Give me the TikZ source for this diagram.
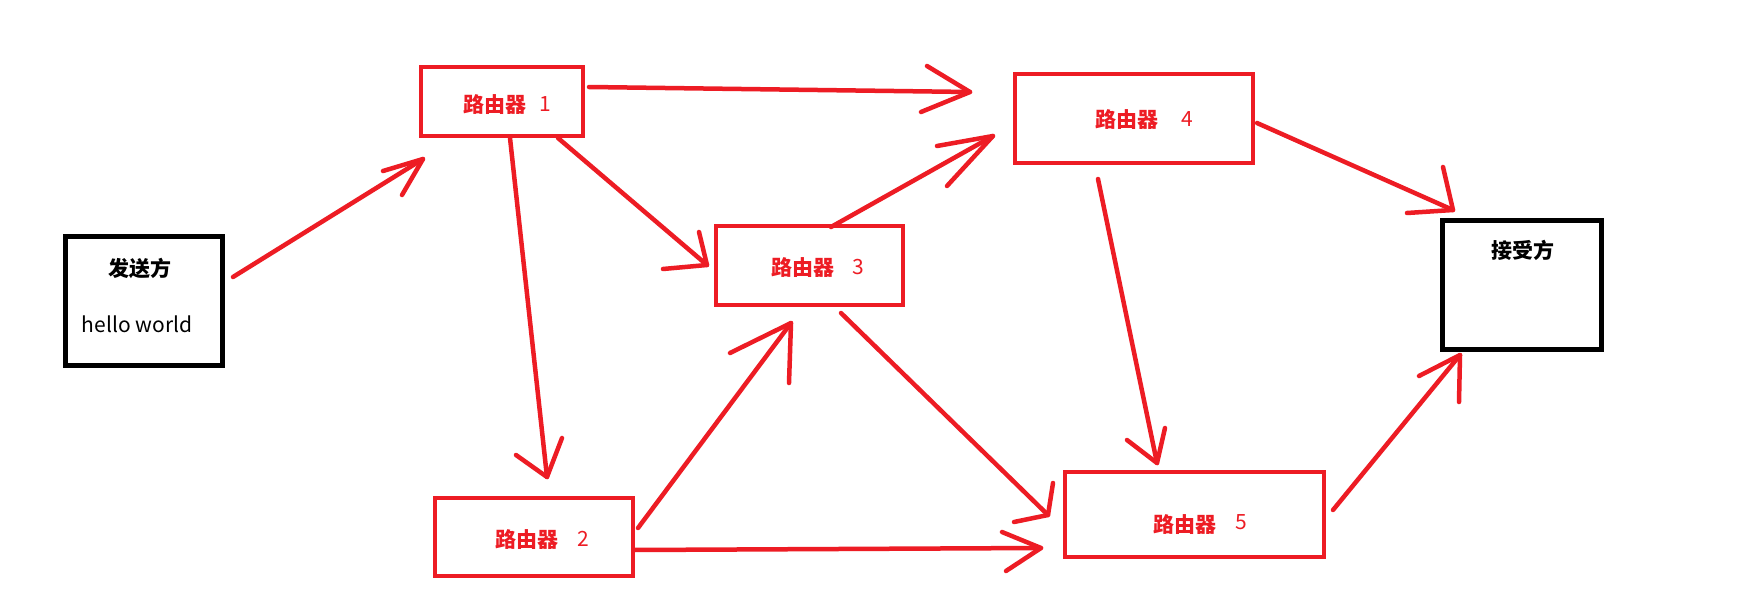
\documentclass[tikz,border=0pt]{standalone}
\usepackage{fontspec}
\setmainfont{Noto Sans CJK SC}
\usetikzlibrary{calc}
\definecolor{pred}{RGB}{237,28,36}
\tikzset{
  rbox/.style={draw=pred, line width=4.5pt, outer sep=0pt, inner sep=0pt},
  kbox/.style={draw=black, line width=5pt, outer sep=0pt, inner sep=0pt},
  cjklbl/.style={inner sep=0pt, font=\fontsize{21}{25}\selectfont\bfseries},
  numlbl/.style={inner sep=0pt, text=pred, font=\fontsize{21}{25}\selectfont},
  arr/.style={draw=pred, line width=4.5pt, line cap=round, line join=round}
}
\begin{document}
\begin{tikzpicture}[x=1pt,y=-1pt]
\useasboundingbox[fill=white] (0,0) rectangle (1754,610);
% boxes
\node[kbox, minimum width=157pt, minimum height=129pt] (snd) at (144,301) {};
\node[kbox, minimum width=159pt, minimum height=129pt] (rcv) at (1522,285) {};
\node[rbox, minimum width=162pt, minimum height=69pt] (r1) at (502,101.5) {};
\node[rbox, minimum width=198pt, minimum height=78pt] (r2) at (534,537) {};
\node[rbox, minimum width=187pt, minimum height=79pt] (r3) at (809.5,265.5) {};
\node[rbox, minimum width=238pt, minimum height=89pt] (r4) at (1134,118.5) {};
\node[rbox, minimum width=259pt, minimum height=85pt] (r5) at (1194.5,514.5) {};
% texts
\node[cjklbl] (sndt) at (140,268) {发送方};
\node[inner sep=0pt, font=\fontsize{21}{25}\selectfont] (sndh) at (137,324) {hello world};
\node[cjklbl] (rcvt) at (1523,250) {接受方};
\node[cjklbl, text=pred] (r1t) at (495,105) {路由器};
\node[numlbl] (r1n) at (545,104) {1};
\node[cjklbl, text=pred] (r2t) at (526.5,540) {路由器};
\node[numlbl] (r2n) at (583,539) {2};
\node[cjklbl, text=pred] (r3t) at (802.5,268) {路由器};
\node[numlbl] (r3n) at (858,267) {3};
\node[cjklbl, text=pred] (r4t) at (1126.5,120) {路由器};
\node[numlbl] (r4n) at (1187,119) {4};
\node[cjklbl, text=pred] (r5t) at (1185,525) {路由器};
\node[numlbl] (r5n) at (1241,522) {5};
% arrow ends
\coordinate (t1) at ([shift={(2,23)}]r1.south west);
\coordinate (t2) at ([shift={(13,-21)}]r2.north);
\coordinate (t3) at ([shift={(-45,-26.5)}]r4.west);
\coordinate (t4) at ([shift={(-9,-0.5)}]r3.west);
\coordinate (t5) at ([shift={(-22,-27)}]r4.south west);
\coordinate (t6) at ([shift={(-18.5,18)}]r3.south);
\coordinate (t7) at ([shift={(-17,0.5)}]r5.west);
\coordinate (t8) at ([shift={(-24,33.5)}]r5.west);
\coordinate (t9) at ([shift={(-37.5,-9)}]r5.north);
\coordinate (t10) at ([shift={(10.5,-10.5)}]rcv.north west);
\coordinate (t11) at ([shift={(17.5,5.5)}]rcv.south west);
% shafts
\draw[arr] ([shift={(10.5,-24)}]snd.east) -- (t1);
\draw[arr] ([shift={(8,2)}]r1.south) -- (t2);
\draw[arr] ([shift={(6,-14.5)}]r1.east) -- (t3);
\draw[arr] ([shift={(-25,2)}]r1.south east) -- (t4);
\draw[arr] ([shift={(21.5,1)}]r3.north) -- (t5);
\draw[arr] ([shift={(5,-9)}]r2.east) -- (t6);
\draw[arr] ([shift={(31.5,8)}]r3.south) -- (t7);
\draw[arr] ([shift={(1,13)}]r2.east) -- (t8);
\draw[arr] ([shift={(-36,16)}]r4.south) -- (t9);
\draw[arr] ([shift={(4,4.5)}]r4.east) -- (t10);
\draw[arr] ([shift={(9,-4.5)}]r5.east) -- (t11);
% heads
\draw[arr] ($(t1)+(-40,12)$) -- (t1) -- ($(t1)+(-21,36)$);
\draw[arr] ($(t2)+(-31,-22)$) -- (t2) -- ($(t2)+(15,-39)$);
\draw[arr] ($(t3)+(-43,-26)$) -- (t3) -- ($(t3)+(-49,20)$);
\draw[arr] ($(t4)+(-8,-33)$) -- (t4) -- ($(t4)+(-44,4)$);
\draw[arr] ($(t5)+(-56,10)$) -- (t5) -- ($(t5)+(-46,50)$);
\draw[arr] ($(t6)+(-61,30)$) -- (t6) -- ($(t6)+(-2,60)$);
\draw[arr] ($(t7)+(5,-32)$) -- (t7) -- ($(t7)+(-34,7)$);
\draw[arr] ($(t8)+(-39,-16)$) -- (t8) -- ($(t8)+(-35,23)$);
\draw[arr] ($(t9)+(-30,-23)$) -- (t9) -- ($(t9)+(8,-35)$);
\draw[arr] ($(t10)+(-10,-43)$) -- (t10) -- ($(t10)+(-46,3)$);
\draw[arr] ($(t11)+(-41,21)$) -- (t11) -- ($(t11)+(-1,47)$);
\end{tikzpicture}
\end{document}
